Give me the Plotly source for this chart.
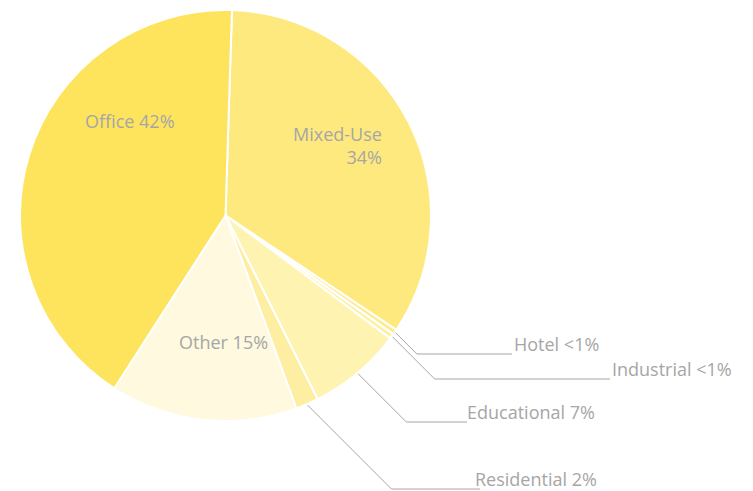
import math
import plotly.graph_objects as go

# ---- data ----
categories = ["Mixed-Use", "Hotel", "Industrial", "Educational", "Residential", "Other", "Office"]
values = [33.9, 0.4, 0.4, 7.4, 1.8, 14.7, 41.4]
label_texts = ["Mixed-Use<br>34%", "Hotel <1%", "Industrial <1%", "Educational 7%",
               "Residential 2%", "Other 15%", "Office 42%"]
colors = ["#FEE97E", "#FEEB8C", "#FEEFA6", "#FEF3B1", "#FEEEA2", "#FEF9DF", "#FEE45C"]

W, H = 753, 491
CX, CY, R = 225.5, 215.5, 205.5
ROT = 1.8

fig = go.Figure(go.Pie(
    labels=categories, values=values, sort=False, direction="clockwise",
    rotation=ROT, textinfo="none", hoverinfo="label+percent",
    marker=dict(colors=colors, line=dict(color="white", width=2)),
    domain=dict(x=[(CX - R) / W, (CX + R) / W], y=[1 - (CY + R) / H, 1 - (CY - R) / H]),
    showlegend=False,
))

font = dict(family="Open Sans, Lato, sans-serif", size=18, color="#A6A6A6")

def px(x):
    return x / W

def py(y):
    return 1 - y / H

# inside labels (positions in pixels)
inside = {"Office": (130, 121, "center"), "Mixed-Use": (384, 145, "right"), "Other": (223, 342, "center")}
annotations = []
for name, (x, y, align) in inside.items():
    i = categories.index(name)
    annotations.append(dict(x=px(x), y=py(y), xref="paper", yref="paper", text=label_texts[i],
                            showarrow=False, font=font, align=align,
                            xanchor={"center": "center", "right": "right"}[align], yanchor="middle"))

# outside labels with bent leader lines: (y of horizontal line, end x of line, label x)
outside = {"Hotel": (354, 512, 512), "Industrial": (379, 610, 610),
           "Educational": (422, 467, 465), "Residential": (489, 480, 473)}
total = sum(values)
cum = 0
mids = []
for v in values:
    mids.append(ROT + (cum + v / 2) / total * 360)
    cum += v

shapes = []
for name, (ly, lx, tx) in outside.items():
    i = categories.index(name)
    a = math.radians(mids[i])
    sx = CX + (R + 1) * math.sin(a)
    sy = CY - (R + 1) * math.cos(a)
    ex = sx + (ly - sy)
    path = f"M {px(sx)},{py(sy)} L {px(ex)},{py(ly)} L {px(lx)},{py(ly)}"
    shapes.append(dict(type="path", xref="paper", yref="paper", path=path,
                       line=dict(color="#A6A6A6", width=1)))
    annotations.append(dict(x=px(tx), y=py(ly + 4), xref="paper", yref="paper", text=label_texts[i],
                            showarrow=False, font=font, xanchor="left", yanchor="bottom"))

fig.update_layout(width=W, height=H, margin=dict(l=0, r=0, t=0, b=0),
                  paper_bgcolor="white", plot_bgcolor="white",
                  annotations=annotations, shapes=shapes)

fig.write_html("out.html", config={"displayModeBar": False},
               post_script="document.body.style.margin='0px';")
